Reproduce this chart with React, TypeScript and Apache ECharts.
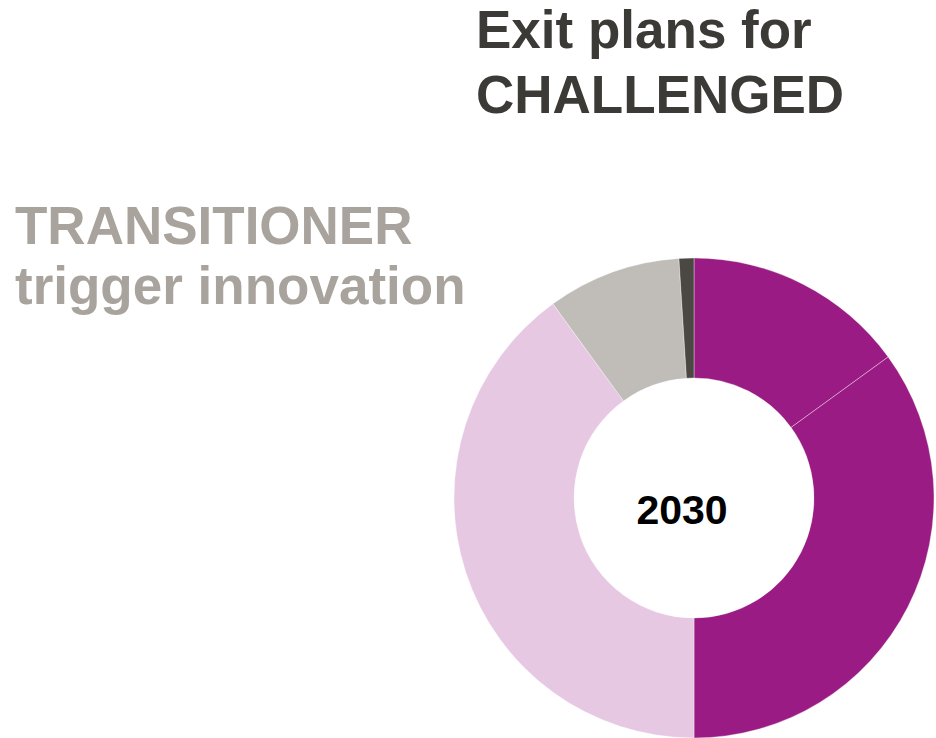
import React, { useEffect, useRef } from "react";
import * as echarts from "echarts";

const categories = ["Exit plans A", "Exit plans B", "Transitioner", "Other", "Residual"];
const values = [15, 35, 40, 9, 1];
const colors = ["#9A1B83", "#9A1B83", "#E6C8E2", "#C0BCB7", "#4B4843"];
const centerLabel = "2030";
const titleLines = ["Exit plans for", "CHALLENGED"];
const sideLines = ["TRANSITIONER", "trigger innovation"];

export default function App() {
  const ref = useRef<HTMLDivElement>(null);
  useEffect(() => {
    if (!ref.current) return;
    const chart = echarts.init(ref.current, undefined, { renderer: "svg" });
    const font = "'Liberation Sans', Arial, sans-serif";
    chart.setOption({
      animation: false,
      backgroundColor: "#ffffff",
      series: [
        {
          type: "pie",
          center: [694, 498],
          radius: [120, 240],
          startAngle: 90,
          clockwise: true,
          label: { show: false },
          labelLine: { show: false },
          emphasis: { disabled: true },
          itemStyle: { borderColor: "rgba(255,255,255,0.45)", borderWidth: 0.8 },
          data: categories.map((c, i) => ({
            name: c,
            value: values[i],
            itemStyle: { color: colors[i] },
          })),
        },
      ],
      graphic: [
        {
          type: "text",
          x: 476,
          y: 29,
          style: {
            text: titleLines[0],
            font: `bold 53px ${font}`,
            fill: "#3B3A36",
            verticalAlign: "middle",
            align: "left",
          },
        },
        {
          type: "text",
          x: 476,
          y: 94,
          style: {
            text: titleLines[1],
            font: `bold 53px ${font}`,
            fill: "#3B3A36",
            verticalAlign: "middle",
            align: "left",
          },
        },
        {
          type: "text",
          x: 15,
          y: 225,
          style: {
            text: sideLines[0],
            font: `bold 53px ${font}`,
            fill: "#A9A39D",
            verticalAlign: "middle",
            align: "left",
          },
        },
        {
          type: "text",
          x: 15,
          y: 285,
          style: {
            text: sideLines[1],
            font: `bold 53px ${font}`,
            fill: "#A9A39D",
            verticalAlign: "middle",
            align: "left",
          },
        },
        {
          type: "text",
          x: 682,
          y: 510,
          style: {
            text: centerLabel,
            font: `bold 41px ${font}`,
            fill: "#000000",
            verticalAlign: "middle",
            align: "center",
          },
        },
      ],
    });
    return () => chart.dispose();
  }, []);
  return (
    <div
      ref={ref}
      style={{ position: "fixed", left: 0, top: 0, width: 936, height: 738 }}
    />
  );
}
